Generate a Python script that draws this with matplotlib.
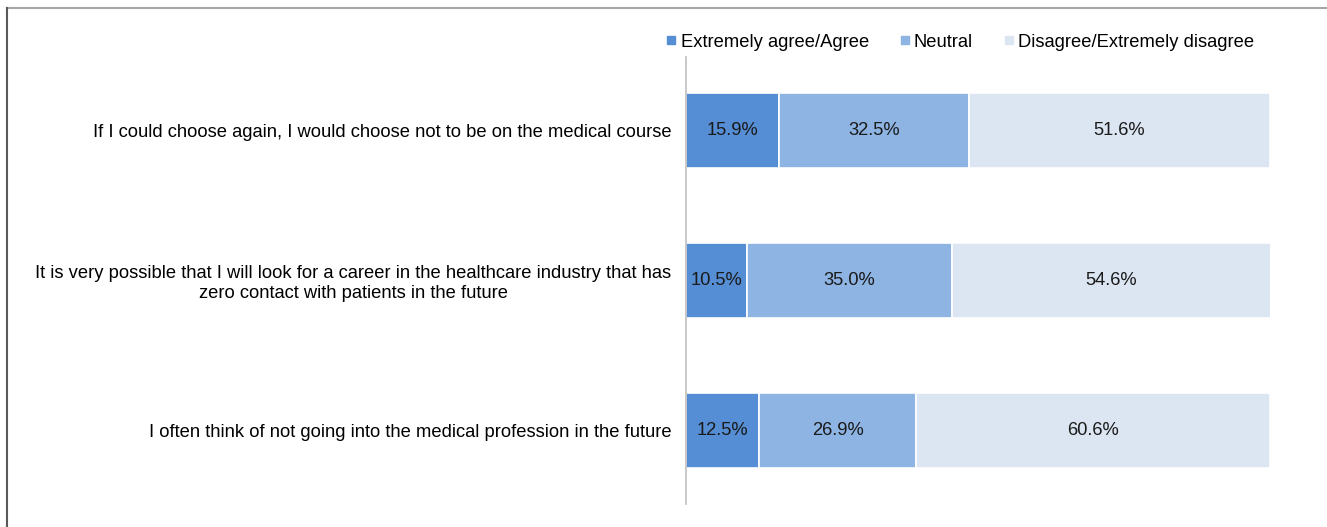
import matplotlib.pyplot as plt
from matplotlib.lines import Line2D

plt.rcParams['font.family'] = ['Liberation Sans', 'DejaVu Sans']

statements = [
    "If I could choose again, I would choose not to be on the medical course",
    "It is very possible that I will look for a career in the healthcare industry that has\nzero contact with patients in the future",
    "I often think of not going into the medical profession in the future",
]
series = ["Extremely agree/Agree", "Neutral", "Disagree/Extremely disagree"]
agree = [15.9, 10.5, 12.5]
neutral = [32.5, 35.0, 26.9]
disagree = [51.6, 54.6, 60.6]
colors = ['#558ED5', '#8EB4E3', '#DCE6F2']

fig = plt.figure(figsize=(13.27, 5.27), dpi=100)
ax = fig.add_axes([0.517, 0.044, 0.44, 0.848])

y = list(range(len(statements)))
left = [0] * len(statements)
for vals, col, name in zip([agree, neutral, disagree], colors, series):
    bars = ax.barh(y, vals, left=left, height=0.5, color=col, edgecolor='white',
                   linewidth=1.2, label=name)
    for b, v in zip(bars, vals):
        ax.text(b.get_x() + b.get_width() / 2, b.get_y() + b.get_height() / 2,
                f"{v:.1f}%", ha='center', va='center', fontsize=13.2, color='#1a1a1a')
    left = [l + v for l, v in zip(left, vals)]

ax.set_xlim(0, 100)
ax.set_ylim(2.49, -0.49)
ax.set_yticks(y)
ax.set_yticklabels(statements, fontsize=13.2, multialignment='center',
                   linespacing=1.2)
ax.tick_params(axis='y', length=0, pad=10.5)
ax.set_xticks([])
for s in ['top', 'right', 'bottom']:
    ax.spines[s].set_visible(False)
ax.spines['left'].set_color('#BFBFBF')
ax.spines['left'].set_linewidth(1.2)

handles = [Line2D([], [], marker='s', linestyle='none', markersize=6,
                  markerfacecolor=c, markeredgecolor=c) for c in colors]
fig.legend(handles, series, loc='center', bbox_to_anchor=(0.723, 0.92), ncol=3,
           frameon=False, fontsize=13.2, handletextpad=0.15, columnspacing=1.6,
           handlelength=0.7)

# outer frame
fig.add_artist(Line2D([0.0053, 1.0], [0.985, 0.985], color='#A6A6A6', lw=1.5,
                      transform=fig.transFigure))
fig.add_artist(Line2D([0.0053, 0.0053], [0.0, 0.985], color='#595959', lw=1.5,
                      transform=fig.transFigure))

fig.savefig('out.png', dpi=100)
